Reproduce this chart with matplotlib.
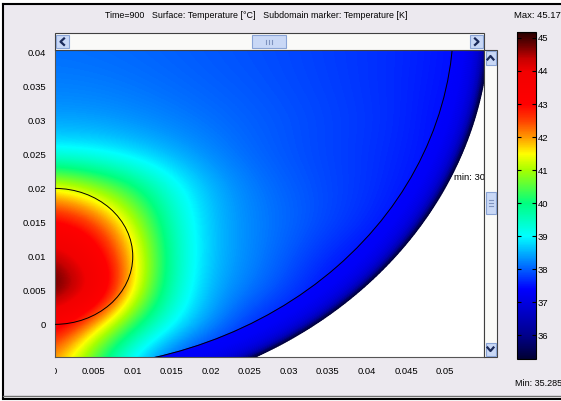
import numpy as np
import matplotlib
matplotlib.use("Agg")
import matplotlib.pyplot as plt
from matplotlib.colors import LinearSegmentedColormap, Normalize
from matplotlib.patches import Circle, Rectangle
from matplotlib.lines import Line2D
from matplotlib.tri import Triangulation
from matplotlib.cm import ScalarMappable
from matplotlib.transforms import Bbox, TransformedBbox

plt.rcParams["font.family"] = ["Liberation Sans", "DejaVu Sans"]

# ---- temperature samples [deg C] on a regular grid (rows: y, cols: x) ----
grid_x = [0.000, 0.005, 0.010, 0.015, 0.020, 0.025, 0.030, 0.035, 0.040, 0.045, 0.050, 0.055]
grid_y = [-0.005, 0.000, 0.005, 0.010, 0.015, 0.020, 0.025, 0.030, 0.035, 0.040]
temp_grid = [
    [42.0, 40.3, 38.7, 37.9, 37.5, 37.4, 37.4, 37.4, 37.4, 37.4, 37.4, 37.4],
    [43.4, 41.9, 40.2, 39.0, 38.3, 37.7, 37.45, 37.4, 37.4, 37.4, 37.4, 37.4],
    [45.17, 44.3, 41.6, 39.5, 38.5, 38.15, 37.8, 37.45, 37.4, 37.4, 37.4, 37.4],
    [44.6, 43.5, 41.8, 39.6, 38.6, 38.25, 37.95, 37.65, 37.45, 37.4, 37.4, 37.4],
    [43.1, 42.6, 41.2, 39.5, 38.6, 38.25, 38.05, 37.85, 37.65, 37.45, 37.4, 37.4],
    [41.6, 41.0, 40.2, 39.2, 38.55, 38.2, 38.0, 37.85, 37.72, 37.55, 37.4, 37.4],
    [39.0, 38.95, 38.75, 38.5, 38.25, 38.05, 37.92, 37.82, 37.72, 37.6, 37.45, 37.4],
    [38.4, 38.38, 38.3, 38.2, 38.1, 38.0, 37.92, 37.83, 37.74, 37.63, 37.45, 37.4],
    [38.2, 38.18, 38.13, 38.07, 38.0, 37.94, 37.87, 37.8, 37.72, 37.63, 37.5, 37.4],
    [38.1, 38.08, 38.05, 38.0, 37.95, 37.9, 37.85, 37.78, 37.72, 37.64, 37.52, 37.4],
]

# ---- outer tissue layer: temperature across its thickness (0 = inner, 1 = surface) ----
ring_depth = [0.0, 0.35, 0.60, 0.75, 0.85, 0.93, 1.0]
ring_temp = [37.4, 37.3, 37.05, 36.75, 36.35, 35.8, 35.285]

# ---- subdomain geometry ----
tumor_center = (0.0, 0.010)
tumor_radius = 0.010
tissue_center = (0.0, 0.0446)
tissue_inner_radius = 0.0511
tissue_outer_radius = 0.0557

t_min, t_max = 35.285, 45.17
cbar_ticks = [36, 37, 38, 39, 40, 41, 42, 43, 44, 45]
x_ticks = [0, 0.005, 0.01, 0.015, 0.02, 0.025, 0.03, 0.035, 0.04, 0.045, 0.05]
x_tick_labels = ["0", "0.005", "0.01", "0.015", "0.02", "0.025", "0.03", "0.035", "0.04", "0.045", "0.05"]
y_ticks = [0, 0.005, 0.01, 0.015, 0.02, 0.025, 0.03, 0.035, 0.04]
y_tick_labels = ["0", "0.005", "0.01", "0.015", "0.02", "0.025", "0.03", "0.035", "0.04"]
title_text = "Time=900   Surface: Temperature [\u00b0C]   Subdomain marker: Temperature [K]"
marker_text = "min: 308.435"

# ---- colour map ----
cmap = LinearSegmentedColormap.from_list("thermal", [
    (0.000, (0.0, 0.0, 0.20)),
    (0.072, (0.0, 0.0, 0.55)),
    (0.173, (0.0, 0.0, 0.88)),
    (0.214, (0.0, 0.0, 1.00)),
    (0.376, (0.0, 1.0, 1.00)),
    (0.477, (0.0, 1.0, 0.50)),
    (0.578, (0.65, 1.0, 0.0)),
    (0.628, (1.0, 1.0, 0.0)),
    (0.679, (1.0, 0.6, 0.0)),
    (0.730, (1.0, 0.25, 0.0)),
    (0.780, (1.0, 0.0, 0.0)),
    (0.880, (0.95, 0.0, 0.0)),
    (0.920, (0.78, 0.0, 0.0)),
    (0.960, (0.43, 0.0, 0.0)),
    (1.000, (0.15, 0.0, 0.0)),
], N=512)
norm = Normalize(vmin=t_min, vmax=t_max)

W, H = 561, 401
FS = 6.8
fig = plt.figure(figsize=(W / 100, H / 100), dpi=100)
fig.patch.set_facecolor("white")


def fx(px):
    return px / W


def fy(py):
    return 1 - py / H


def add_rect(x0, y0, x1, y1, **kw):
    r = Rectangle((fx(x0), fy(y1)), fx(x1) - fx(x0), fy(y0) - fy(y1),
                  transform=fig.transFigure, **kw)
    fig.add_artist(r)
    return r


def add_line(xs, ys, **kw):
    ln = Line2D([fx(v) for v in xs], [fy(v) for v in ys], transform=fig.transFigure, **kw)
    fig.add_artist(ln)
    return ln


# window background and frame
add_rect(3, 4, 562, 397, facecolor="#ECE9EF", edgecolor="none", zorder=-10)
add_line([3, 562], [4, 4], color="black", lw=1.5, zorder=-9)
add_line([3, 3], [4, 398], color="black", lw=1.5, zorder=-9)
add_line([3, 562], [395.5, 395.5], color="#707070", lw=1.0, zorder=-9)
add_line([3, 562], [398.5, 398.5], color="black", lw=1.5, zorder=-9)

# ---- main plot ----
ax = fig.add_axes([fx(54.7), fy(357), fx(484) - fx(54.7), fy(49.7) - fy(357)])
ax.set_facecolor("white")

dx = grid_x[1] - grid_x[0]
dy = grid_y[1] - grid_y[0]
img = ax.imshow(np.array(temp_grid), origin="lower", cmap=cmap, norm=norm,
                extent=[grid_x[0] - dx / 2, grid_x[-1] + dx / 2, grid_y[0] - dy / 2, grid_y[-1] + dy / 2],
                interpolation="bicubic", interpolation_stage="data", aspect="auto", zorder=1)
img.set_clip_path(Circle(tissue_center, tissue_inner_radius + 0.0003, transform=ax.transData))

# outer layer as a gouraud-shaded annular mesh
theta = np.deg2rad(np.linspace(-100, 15, 400))
radii = tissue_inner_radius + np.array(ring_depth) * (tissue_outer_radius - tissue_inner_radius)
rr, tt = np.meshgrid(radii, theta, indexing="ij")
ring_x = (tissue_center[0] + rr * np.cos(tt)).ravel()
ring_y = (tissue_center[1] + rr * np.sin(tt)).ravel()
ring_c = np.repeat(np.array(ring_temp), len(theta))
nt = len(theta)
tris = []
for k in range(len(radii) - 1):
    for j in range(nt - 1):
        a, b = k * nt + j, (k + 1) * nt + j
        tris.append([a, b, a + 1])
        tris.append([b, b + 1, a + 1])
tri = Triangulation(ring_x, ring_y, np.array(tris))
ax.tripcolor(tri, ring_c, shading="gouraud", cmap=cmap, norm=norm, zorder=2)

# subdomain boundaries
ax.add_patch(Circle(tumor_center, tumor_radius, fill=False, ec="black", lw=0.7, zorder=3))
ax.add_patch(Circle(tissue_center, tissue_inner_radius, fill=False, ec="black", lw=0.7, zorder=3))

ax.text(0.0512, 0.0216, marker_text, fontsize=FS, ha="left", va="center", clip_on=True, zorder=4)

ax.set_xlim(0, 0.055)
ax.set_ylim(-0.0048, 0.0404)
ax.set_xticks(x_ticks)
ax.set_xticklabels(x_tick_labels)
ax.set_yticks(y_ticks)
ax.set_yticklabels(y_tick_labels)
ax.tick_params(length=0, labelsize=FS)
ax.tick_params(axis="x", pad=7)
ax.tick_params(axis="y", pad=6)
for s in ax.spines.values():
    s.set_color("#555555")
    s.set_linewidth(0.8)

# first x label is cut at the view border
fig.canvas.draw()
lab0 = ax.get_xticklabels()[0]
lab0.set_clip_box(TransformedBbox(Bbox([[fx(54.5), 0], [1, 1]]), fig.transFigure))
lab0.set_clip_on(True)

# ---- scrollbars ----
btn_face, btn_edge, arrow_col = "#C9D8F6", "#8AA4D6", "#1B2A5A"
# horizontal
add_rect(54.7, 33.5, 484, 49.7, facecolor="#FAFAF8", edgecolor="#404040", lw=0.8, zorder=5)
add_rect(56, 35, 68.5, 48.3, facecolor=btn_face, edgecolor=btn_edge, lw=0.8, zorder=6)
add_rect(470.5, 35, 483, 48.3, facecolor=btn_face, edgecolor=btn_edge, lw=0.8, zorder=6)
add_line([64, 60.5, 64], [38.5, 41.7, 44.9], color=arrow_col, lw=1.6, zorder=7)
add_line([475, 478.5, 475], [38.5, 41.7, 44.9], color=arrow_col, lw=1.6, zorder=7)
add_rect(252, 35, 286, 48.3, facecolor=btn_face, edgecolor=btn_edge, lw=0.8, zorder=6)
for gx in (266, 269, 272):
    add_line([gx, gx], [39.5, 44], color="#7F93BF", lw=0.8, zorder=7)
# vertical
add_rect(484, 49.7, 497, 357, facecolor="#FAFAF8", edgecolor="#404040", lw=0.8, zorder=5)
add_rect(485.5, 51.5, 495.5, 64.5, facecolor=btn_face, edgecolor=btn_edge, lw=0.8, zorder=6)
add_rect(485.5, 342.5, 495.5, 355.5, facecolor=btn_face, edgecolor=btn_edge, lw=0.8, zorder=6)
add_line([487.5, 490.5, 493.5], [59.5, 56, 59.5], color=arrow_col, lw=1.6, zorder=7)
add_line([487.5, 490.5, 493.5], [347.5, 351, 347.5], color=arrow_col, lw=1.6, zorder=7)
add_rect(485.5, 192, 495.5, 214, facecolor=btn_face, edgecolor=btn_edge, lw=0.8, zorder=6)
for gy in (200, 203, 206):
    add_line([488.5, 492.5], [gy, gy], color="#7F93BF", lw=0.8, zorder=7)

# ---- colour bar ----
cax = fig.add_axes([fx(517.3), fy(359), fx(535.7) - fx(517.3), fy(32.3) - fy(359)])
cb = fig.colorbar(ScalarMappable(norm=norm, cmap=cmap), cax=cax, ticks=cbar_ticks)
cb.set_ticklabels([str(t) for t in cbar_ticks])
cb.outline.set_edgecolor("black")
cb.outline.set_linewidth(0.8)
cax.tick_params(direction="in", length=3, width=0.8, left=True, right=True,
                labelleft=False, labelright=True, pad=1.5, labelsize=FS)

# ---- texts ----
fig.text(fx(256), fy(16), title_text, ha="center", va="center", fontsize=6.4)
fig.text(fx(514), fy(15), "Max: %.2f" % t_max, ha="left", va="center", fontsize=FS)
fig.text(fx(515), fy(384), "Min: %.3f" % t_min, ha="left", va="center", fontsize=6.5)

fig.savefig("out.png", dpi=100)
